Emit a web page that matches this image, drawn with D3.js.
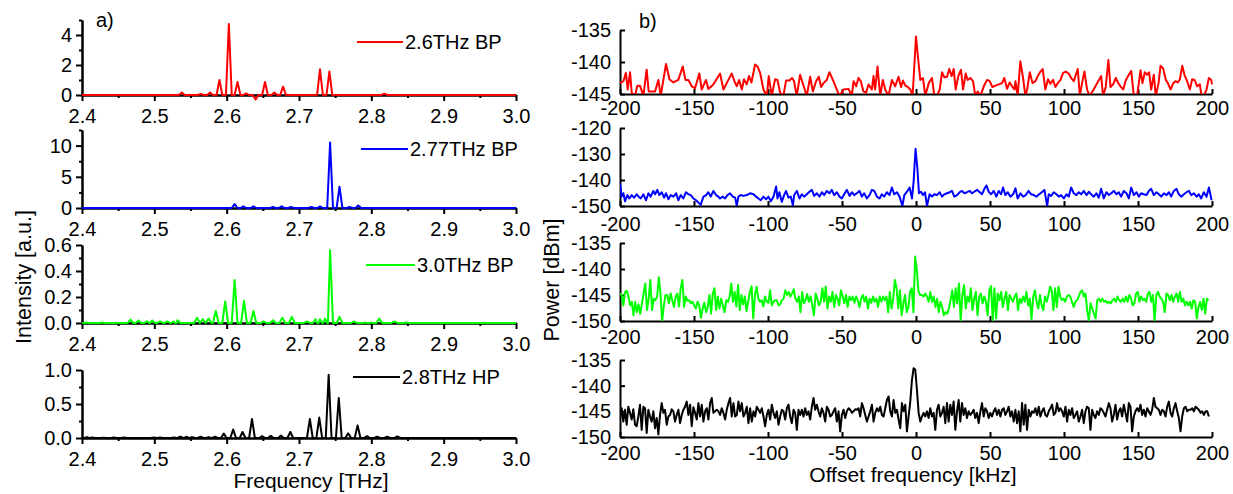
<!DOCTYPE html>
<html>
<head>
<meta charset="utf-8">
<script src="https://cdn.jsdelivr.net/npm/d3@7"></script>
<style>
  body { margin: 0; background: #fff; }
</style>
</head>
<body>
<div class="chart"></div>
<script>
// Data
//= ================================
// left column: THz spectra, peaks as [frequency THz, intensity a.u.]
var peakRed = [[2.538,0.16],[2.564,0.07],[2.577,0.16],[2.590,1.0],[2.603,4.73],[2.615,0.87],[2.627,0.11],
  [2.640,-0.29],[2.653,0.87],[2.666,0.16],[2.678,0.56],[2.729,1.71],[2.742,1.56],[2.818,0.09]];
var peakBlue = [[2.611,0.63],[2.623,0.26],[2.637,0.26],[2.664,0.16],[2.676,0.26],[2.689,0.16],[2.717,0.16],
  [2.729,0.26],[2.743,10.5],[2.756,3.42],[2.770,0.16],[2.782,0.42]];
var peakGreen = [[2.406,0.003],[2.428,0.003],[2.467,0.026],[2.478,0.02],[2.490,0.013],[2.497,0.02],[2.508,0.013],
  [2.518,0.013],[2.527,0.013],[2.532,0.021],[2.559,0.04],[2.567,0.03],[2.575,0.034],[2.585,0.092],[2.598,0.166],
  [2.611,0.33],[2.624,0.171],[2.637,0.092],[2.651,0.013],[2.664,0.021],[2.677,0.04],[2.690,0.047],[2.711,0.013],
  [2.723,0.029],[2.729,0.029],[2.736,0.034],[2.743,0.56],[2.756,0.047],[2.776,0.013],[2.792,0.003],[2.799,0.003],
  [2.811,0.034],[2.832,0.013],[2.849,0.003]];
var peakBlack = [[2.407,0.013],[2.414,0.009],[2.430,0.004],[2.444,0.009],[2.458,0.009],[2.499,0.009],[2.508,0.009],
  [2.527,0.009],[2.536,0.018],[2.545,0.018],[2.552,0.013],[2.564,0.018],[2.575,0.013],[2.584,0.018],[2.596,0.066],
  [2.609,0.124],[2.622,0.088],[2.635,0.28],[2.649,0.027],[2.661,0.031],[2.675,0.035],[2.688,0.088],[2.715,0.28],
  [2.728,0.30],[2.741,0.93],[2.755,0.59],[2.768,0.07],[2.781,0.186],[2.794,0.027],[2.808,0.018],[2.822,0.018],
  [2.836,0.022]];

// right column: beat note spectra, [offset kHz, power dBm]
var noiseRed = [[-200,-143.3],[-197.7,-143.0],[-196,-141.7],[-194.8,-144.3],[-193.2,-141.6],[-192.1,-144.8],[-189.9,-145.3],
  [-188.3,-143.7],[-186.5,-143.7],[-184.2,-145.3],[-182,-141.2],[-180.6,-144.6],[-178.6,-144.6],[-176.3,-144.6],
  [-174.1,-142.8],[-172.5,-145.3],[-168.9,-140.3],[-166.6,-142.7],[-163.9,-143.2],[-160.6,-142.8],[-157.6,-140.7],
  [-155.8,-142.8],[-153.8,-142.8],[-151.5,-143.8],[-149.3,-144.1],[-146.4,-141.8],[-144.8,-144.3],[-141.9,-142.8],
  [-140.3,-144.2],[-136.9,-143.5],[-135.1,-142.8],[-132.4,-141.8],[-130.1,-144.3],[-127.9,-143.3],[-124.5,-141.8],
  [-122.7,-143.0],[-121.1,-143.8],[-119.5,-142.8],[-117.7,-144.3],[-116.2,-142.7],[-114.4,-143.5],[-112.8,-142.2],
  [-111.2,-143.2],[-108.7,-140.4],[-107.1,-140.7],[-105.3,-141.7],[-103.1,-144.3],[-100.8,-145.3],[-99.5,-142.2],
  [-97.5,-145.3],[-95.2,-142.7],[-93.6,-142.8],[-91.8,-144.8],[-89.6,-145.3],[-87.8,-142.9],[-85.5,-142.9],
  [-83.7,-142.5],[-82.4,-143.0],[-80.6,-145.3],[-78.3,-142.0],[-76.0,-143.7],[-73.8,-145.3],[-71.5,-142.3],
  [-69.7,-144.6],[-67.5,-143.0],[-65.7,-142.3],[-64.1,-143.9],[-62.5,-143.3],[-60.3,-142.8],[-58.5,-141.6],
  [-55.8,-143.0],[-53.5,-144.3],[-51.7,-145.3],[-49.0,-144.3],[-45.6,-144.2],[-43.4,-145.3],[-42.2,-143.0],
  [-40.4,-143.8],[-38.9,-142.5],[-37.3,-143.0],[-35.5,-144.6],[-33.7,-144.8],[-32.1,-143.5],[-29.8,-144.3],
  [-28.7,-142.2],[-27.6,-144.3],[-26.0,-140.7],[-24.2,-145.3],[-22.4,-142.8],[-20.8,-144.3],[-18.6,-145.3],
  [-16.3,-142.8],[-14.1,-143.8],[-11.8,-142.3],[-10.1,-143.9],[-8.8,-142.9],[-7.2,-143.7],[-5.6,-143.9],
  [-3.8,-144.3],[-2.3,-145.3],[0,-136.0],[1.4,-139.4],[2.9,-142.8],[4.7,-142.5],[6.3,-145.3],[8.6,-143.3],
  [10.8,-142.5],[12.4,-145.3],[14.2,-145.3],[16.0,-144.3],[17.6,-141.6],[19.2,-142.4],[21.0,-142.3],[22.5,-141.1],
  [24.1,-142.2],[25.5,-141.1],[26.8,-144.3],[28.6,-142.2],[30.4,-141.2],[31.8,-144.3],[33.6,-141.8],[34.9,-142.8],
  [36.7,-142.5],[38.5,-143.0],[40.1,-145.3],[41.7,-144.6],[43.5,-145.3],[45.8,-143.8],[48.0,-142.8],[49.8,-143.0],
  [51.6,-143.9],[53.6,-143.7],[55.9,-143.5],[58.1,-143.3],[59.7,-142.5],[61.5,-144.2],[63.3,-143.2],[64.9,-143.8],
  [66.5,-144.3],[67.2,-143.0],[68.7,-145.3],[70.5,-139.9],[72.3,-142.4],[73.9,-145.3],[75.1,-144.3],[76.9,-141.6],
  [78.7,-143.3],[80.7,-143.0],[82.3,-142.2],[84.1,-141.5],[85.6,-141.1],[87.4,-144.3],[89.2,-142.7],[90.8,-143.4],
  [92.6,-142.8],[94.2,-143.9],[95.8,-143.3],[97.6,-142.8],[99.4,-141.7],[101.2,-141.5],[103.2,-141.8],[104.8,-142.5],
  [106.6,-143.0],[108.0,-142.0],[109.3,-141.1],[110.7,-145.3],[112.2,-143.3],[113.8,-141.5],[115.6,-144.3],
  [117.2,-145.3],[120.1,-144.3],[122.4,-143.3],[125.1,-142.2],[126.4,-145.3],[128.2,-143.9],[130.0,-139.7],
  [131.4,-143.9],[133.2,-143.5],[135.0,-142.5],[136.4,-143.2],[138.2,-143.8],[140.0,-144.3],[141.8,-142.8],
  [143.8,-142.0],[145.4,-141.4],[147.2,-145.3],[149.4,-145.3],[151.7,-141.3],[153.0,-143.3],[154.6,-141.6],
  [156.2,-142.0],[157.5,-141.6],[158.9,-144.3],[160.7,-142.0],[162.0,-145.3],[163.9,-143.3],[165.2,-140.6],
  [167.0,-141.0],[168.8,-142.8],[170.2,-143.3],[172.0,-144.3],[173.8,-143.3],[175.3,-143.0],[176.9,-143.2],
  [178.3,-142.7],[179.9,-140.6],[181.4,-142.0],[183.2,-143.0],[185.0,-144.3],[186.6,-142.7],[188.2,-142.8],
  [190.0,-143.8],[191.8,-143.5],[192.9,-145.3],[194.5,-145.3],[196.3,-144.3],[197.9,-142.5],[199.5,-142.8],[200,-143.5]];

var noiseBlue = [[-200.0,-141.2],[-198.9,-146.4],[-197.7,-145.1],[-196.6,-148.2],[-195.0,-145.8],[-193.7,-147.1],
  [-192.1,-145.8],[-190.5,-146.8],[-188.7,-145.5],[-187.4,-146.4],[-186.0,-147.1],[-184.2,-145.5],[-182.4,-147.8],
  [-180.8,-145.1],[-179.3,-146.4],[-177.5,-144.2],[-176.3,-145.5],[-174.8,-143.8],[-173.4,-145.8],[-171.8,-144.7],
  [-170.2,-146.8],[-168.9,-145.1],[-167.3,-147.4],[-165.7,-145.8],[-163.9,-146.4],[-162.1,-145.1],[-160.6,-147.8],
  [-159.0,-145.8],[-157.2,-147.1],[-155.4,-144.7],[-153.8,-145.5],[-152.2,-145.8],[-150.4,-147.1],[-148.6,-147.8],
  [-147.0,-148.7],[-145.5,-149.5],[-143.6,-146.4],[-141.8,-145.8],[-140.3,-144.7],[-138.7,-146.4],[-136.9,-144.2],
  [-135.1,-145.8],[-133.5,-146.4],[-132.4,-147.1],[-130.6,-146.4],[-129.0,-147.1],[-127.4,-145.8],[-125.6,-145.1],
  [-123.8,-146.4],[-122.2,-146.8],[-121.1,-150.0],[-120.0,-146.4],[-118.4,-145.8],[-116.6,-146.1],[-114.3,-145.8],
  [-112.1,-145.1],[-109.8,-145.5],[-108.0,-146.4],[-106.5,-147.1],[-104.9,-147.8],[-103.1,-146.4],[-101.3,-147.4],
  [-99.7,-146.4],[-98.1,-148.2],[-96.3,-146.4],[-94.5,-142.5],[-93.6,-147.1],[-92.3,-144.7],[-90.7,-148.4],
  [-89.1,-145.8],[-87.8,-144.2],[-86.2,-146.8],[-84.6,-146.4],[-83.2,-149.7],[-82.3,-145.8],[-80.5,-144.2],
  [-78.7,-147.1],[-77.2,-145.5],[-75.6,-146.4],[-73.8,-145.5],[-72.0,-144.5],[-70.4,-143.8],[-68.8,-146.1],
  [-67.0,-145.1],[-65.2,-146.4],[-63.6,-144.7],[-62.0,-145.8],[-60.3,-144.2],[-58.4,-145.1],[-56.9,-143.8],
  [-55.3,-145.8],[-53.5,-144.7],[-51.7,-146.4],[-50.1,-147.1],[-48.5,-145.5],[-46.7,-143.8],[-44.9,-146.1],
  [-43.3,-144.7],[-41.8,-145.8],[-40.0,-145.1],[-38.2,-144.2],[-36.6,-146.4],[-35.0,-145.1],[-33.2,-147.1],
  [-31.4,-145.8],[-29.8,-143.8],[-28.2,-144.2],[-26.4,-146.4],[-24.6,-147.1],[-23.1,-145.5],[-21.5,-146.4],
  [-19.7,-144.7],[-17.9,-145.8],[-16.3,-142.9],[-14.7,-145.5],[-12.9,-144.7],[-11.1,-146.4],[-9.2,-150.0],
  [-7.9,-145.8],[-6.1,-144.5],[-4.3,-142.9],[-2.7,-147.1],[-1.6,-140.5],[-0.3,-128.0],[0.9,-135.3],[2.0,-145.1],
  [3.4,-144.5],[4.7,-145.8],[6.1,-144.7],[7.4,-150.0],[9.2,-145.5],[10.8,-146.4],[12.4,-145.5],[14.2,-145.8],
  [16.0,-144.7],[17.6,-146.4],[19.2,-145.5],[21.0,-145.1],[22.8,-144.7],[24.3,-144.2],[25.9,-146.4],[27.7,-145.8],
  [29.5,-144.7],[31.1,-144.2],[32.7,-145.1],[34.5,-144.7],[36.3,-144.2],[37.9,-145.1],[39.4,-144.5],[41.2,-143.8],
  [43.1,-144.7],[44.6,-145.5],[46.2,-143.4],[47.6,-142.1],[49.1,-144.5],[50.7,-145.5],[52.5,-144.2],[54.3,-146.4],
  [55.9,-144.2],[57.5,-145.5],[58.8,-142.9],[60.4,-145.8],[62.0,-144.7],[63.8,-146.4],[65.6,-145.5],[67.2,-143.2],
  [68.7,-147.1],[70.6,-145.1],[72.4,-146.4],[74.2,-145.8],[76.0,-144.2],[77.8,-145.5],[79.6,-145.8],[81.4,-146.4],
  [83.2,-145.5],[85.0,-144.7],[86.8,-143.8],[88.6,-150.0],[89.7,-145.5],[91.3,-146.1],[93.1,-144.7],[94.9,-145.5],
  [96.5,-146.4],[98.0,-145.8],[99.9,-147.1],[101.7,-145.5],[103.2,-146.4],[104.8,-142.9],[106.6,-145.1],
  [108.4,-145.8],[110.0,-144.7],[111.6,-145.5],[113.4,-144.2],[115.2,-145.8],[116.8,-144.5],[118.3,-145.5],
  [120.1,-146.4],[121.9,-145.1],[123.5,-146.8],[125.1,-143.4],[126.9,-147.1],[128.7,-144.7],[130.3,-145.8],
  [131.9,-145.1],[133.7,-144.2],[135.5,-145.5],[137.0,-144.7],[138.6,-146.4],[140.4,-144.2],[142.2,-145.1],
  [143.8,-147.1],[145.4,-142.9],[147.2,-145.8],[149.0,-144.7],[150.6,-146.4],[152.1,-145.1],[153.9,-145.5],
  [155.8,-145.8],[157.3,-144.2],[158.9,-143.4],[160.7,-145.8],[162.5,-144.7],[164.1,-145.5],[165.7,-146.4],
  [167.5,-145.1],[169.3,-145.8],[170.9,-144.7],[172.4,-146.4],[174.2,-144.2],[176.0,-143.4],[177.6,-145.5],
  [179.2,-146.4],[181.0,-145.5],[182.8,-144.7],[184.4,-144.2],[186.0,-145.8],[187.8,-145.1],[189.6,-146.4],
  [191.1,-145.5],[192.7,-147.1],[194.5,-144.7],[196.3,-146.4],[197.9,-142.9],[199.0,-145.8],[199.7,-147.8]];

// green and black traces: evenly spaced samples between the first and last offset
var greenSpan = [-200, 197.7];
var noiseGreen = [-144.7,-145.0,-147.0,-144.4,-144.2,-145.3,-147.0,
  -146.3,-148.9,-146.3,-148.3,-146.8,-148.6,-146.6,-144.7,-142.8,-147.9,
  -145.7,-142.1,-147.9,-145.7,-146.0,-145.3,-141.6,-144.7,-150.0,-147.0,
  -145.0,-145.0,-146.6,-144.7,-146.0,-147.3,-145.3,-144.7,-147.2,-143.7,
  -142.1,-147.3,-145.3,-146.1,-146.0,-146.6,-146.3,-147.0,-147.6,-146.3,
  -147.0,-149.4,-147.6,-146.5,-148.3,-147.3,-145.0,-148.6,-144.7,-143.7,
  -147.9,-145.3,-147.6,-145.7,-147.0,-148.3,-146.0,-146.3,-145.3,-142.8,
  -146.3,-144.4,-147.2,-143.1,-147.9,-145.0,-146.8,-145.3,-148.1,-146.3,
  -144.4,-143.3,-149.5,-145.0,-143.4,-145.7,-146.3,-146.0,-147.2,-145.3,
  -146.3,-146.5,-144.1,-147.0,-146.3,-146.0,-146.0,-147.0,-146.8,-146.0,
  -145.7,-144.1,-145.0,-144.4,-145.3,-144.7,-143.9,-145.7,-146.3,-145.3,
  -148.3,-144.4,-146.6,-146.0,-144.8,-146.3,-145.3,-147.0,-148.9,-144.7,
  -145.7,-147.0,-146.3,-143.7,-146.3,-143.4,-147.6,-145.3,-146.3,-144.4,
  -147.3,-145.0,-145.7,-147.0,-144.1,-145.3,-146.6,-145.0,-147.3,-145.3,
  -146.0,-145.3,-146.5,-145.3,-146.0,-147.3,-145.7,-145.0,-146.3,-145.3,
  -147.6,-145.7,-146.5,-145.3,-146.3,-145.7,-147.3,-145.3,-146.3,-145.3,
  -146.0,-145.3,-148.3,-144.4,-147.6,-145.7,-142.1,-143.7,-147.6,
  -144.1,-148.9,-146.6,-145.0,-148.3,-147.3,-144.4,-143.7,-148.3,-137.6,
  -140.2,-144.4,-145.0,-145.0,-145.3,-144.7,-145.3,-146.3,-144.4,-146.3,
  -145.3,-147.3,-145.7,-148.3,-146.3,-147.3,-148.9,-148.3,-148.6,-147.6,
  -146.0,-144.1,-147.3,-143.7,-146.6,-142.8,-150.0,-145.0,-143.1,-147.6,
  -145.3,-146.3,-143.7,-147.9,-145.7,-144.4,-148.9,-145.3,-144.7,-146.6,
  -145.3,-146.3,-148.9,-144.1,-143.3,-149.9,-143.7,-149.5,-144.7,-146.0,
  -144.4,-147.3,-145.7,-144.4,-147.9,-145.0,-145.7,-146.3,-145.3,-144.7,
  -147.9,-145.7,-146.5,-145.3,-146.3,-144.4,-147.0,-145.7,-149.7,-145.3,
  -144.1,-146.3,-147.6,-145.0,-147.0,-147.9,-145.3,-146.3,-145.0,-143.4,
  -144.1,-147.9,-143.7,-147.3,-143.4,-145.3,-146.0,-145.7,-146.3,-145.3,
  -145.0,-145.3,-146.3,-147.3,-146.3,-146.0,-145.3,-144.4,-144.1,-145.3,
  -144.7,-147.9,-149.9,-146.6,-147.6,-148.6,-149.5,-146.0,-145.7,-146.3,
  -145.7,-146.3,-146.1,-146.6,-146.3,-146.6,-146.0,-145.7,-146.3,-145.3,
  -146.0,-146.3,-145.7,-146.3,-145.3,-146.3,-145.0,-145.7,-147.0,-146.6,
  -144.7,-144.4,-146.3,-145.3,-146.0,-145.7,-146.3,-144.7,-144.4,-146.3,
  -145.0,-150.0,-145.0,-144.4,-145.3,-145.7,-146.3,-148.3,-144.7,-145.0,
  -146.0,-145.0,-146.3,-145.3,-144.7,-146.3,-144.4,-146.3,-145.7,-147.0,
  -146.3,-147.0,-146.3,-147.6,-146.0,-146.3,-149.5,-147.3,-146.3,-147.9,
  -145.7,-148.6,-145.7,-146.0];

var blackSpan = [-200, 197.9];
var noiseBlack = [-146.3,-144.4,-147.0,-144.7,-147.6,-144.1,-145.3,-146.6,-144.6,-147.6,
  -147.9,-146.0,-143.7,-148.6,-144.1,-144.4,-149.2,-144.7,-146.0,-147.0,
  -145.0,-148.3,-146.3,-149.5,-145.7,-143.4,-145.3,-144.7,-147.6,-146.0,
  -145.7,-144.6,-145.0,-147.0,-145.7,-144.7,-147.3,-145.7,-144.7,-144.1,
  -143.1,-145.7,-143.7,-147.9,-144.2,-145.3,-146.6,-143.4,-146.0,-143.7,
  -147.0,-145.0,-144.4,-146.6,-143.4,-142.4,-145.3,-145.0,-144.7,-145.0,
  -145.7,-144.4,-145.3,-146.6,-144.7,-143.4,-142.4,-146.0,-143.4,-146.0,
  -145.7,-143.1,-145.0,-143.4,-146.0,-145.3,-144.1,-147.3,-144.4,-147.0,
  -145.0,-146.0,-144.1,-144.7,-145.3,-144.4,-146.0,-147.9,-145.7,-144.7,
  -146.6,-143.7,-145.3,-146.3,-145.0,-147.6,-146.0,-144.7,-145.0,-146.6,
  -144.4,-143.7,-146.0,-147.3,-144.7,-145.3,-148.6,-144.7,-145.7,-144.7,
  -146.0,-144.4,-145.7,-145.0,-146.6,-144.1,-142.4,-144.7,-143.7,-145.0,
  -146.0,-144.4,-145.3,-147.0,-144.1,-144.7,-146.0,-145.7,-145.0,-144.4,
  -147.0,-145.0,-148.9,-145.7,-144.7,-146.3,-145.0,-144.4,-144.7,-145.3,
  -145.0,-144.6,-144.7,-144.4,-146.0,-143.4,-144.4,-145.7,-147.0,-146.0,
  -145.0,-143.7,-147.0,-145.3,-144.4,-145.0,-144.1,-145.7,-146.0,-144.4,
  -142.8,-142.1,-145.0,-146.0,-142.8,-145.3,-144.7,-146.6,
  -148.3,-143.4,-145.0,-143.7,-148.9,-146.0,-143.1,-138.9,-136.6,-136.9,
  -140.8,-145.3,-147.0,-146.0,-145.3,-146.0,-145.0,-146.3,-144.4,-146.0,
  -145.3,-148.6,-144.7,-143.7,-146.0,-145.3,-144.1,-147.3,-143.4,-147.0,
  -143.7,-145.7,-143.1,-148.6,-145.0,-142.8,-147.0,-143.4,-145.7,-144.4,
  -146.3,-145.0,-145.7,-145.3,-144.7,-146.3,-145.3,-147.3,-145.0,-143.4,
  -146.0,-144.4,-145.0,-146.3,-145.3,-146.0,-145.0,-144.4,-145.7,-144.7,
  -146.0,-144.7,-144.4,-145.7,-145.0,-144.1,-146.0,-145.0,-147.0,-144.7,
  -147.3,-145.0,-148.9,-143.4,-147.6,-143.7,-148.6,-144.7,-146.0,-145.0,
  -145.3,-144.4,-145.7,-144.1,-146.0,-145.0,-144.4,-145.7,-146.0,-145.0,
  -144.4,-143.7,-145.7,-145.3,-143.4,-145.0,-144.4,-145.0,-146.0,-144.1,
  -147.0,-144.7,-145.7,-144.4,-146.3,-145.7,-145.0,-147.0,-146.0,-144.7,
  -147.3,-145.0,-144.1,-144.4,-148.6,-144.7,-145.7,-146.3,-145.0,-145.7,
  -144.4,-144.7,-145.3,-146.0,-144.7,-143.4,-144.4,-147.0,-145.7,-143.7,
  -146.6,-145.0,-144.4,-146.0,-143.7,-145.3,-147.0,-143.4,-144.1,-148.9,
  -146.0,-145.0,-144.4,-145.0,-143.7,-145.7,-144.7,-146.0,-144.4,-145.0,
  -145.7,-144.7,-142.4,-144.1,-144.4,-144.7,-145.7,-144.7,-145.0,-146.0,
  -144.1,-143.1,-145.3,-146.0,-144.4,-143.4,-145.0,-146.3,-148.9,-146.0,
  -144.4,-144.1,-145.0,-144.7,-144.7,-144.4,-145.0,-144.1,-144.4,-144.7,
  -145.3,-145.0,-145.7,-145.0,-145.0,-146.0];

// ticks and labels
var freqTicks = [2.4, 2.5, 2.6, 2.7, 2.8, 2.9, 3.0];
var freqMinor = [2.45, 2.55, 2.65, 2.75, 2.85, 2.95];
var offsetTicks = [-200, -150, -100, -50, 0, 50, 100, 150, 200];
var intensityTicks = [[0, 2, 4], [0, 5, 10], [0, 0.2, 0.4, 0.6], [0, 0.5, 1.0]];
var intensityMinor = [[1, 3, 5], [2.5, 7.5, 12.5], [0.1, 0.3, 0.5], [0.25, 0.75]];
var powerTicks = [[-145, -140, -135], [-150, -140, -130, -120], [-150, -145, -140, -135], [-150, -145, -140, -135]];
var legendLabels = ["2.6THz BP", "2.77THz BP", "3.0THz BP", "2.8THz HP"];
var seriesColors = ["#ff0000", "#0000ff", "#00ff00", "#000000"];

// Set up
//= ================================
var font = "'Liberation Sans', Arial, Helvetica, sans-serif";

var svg = d3.select(".chart")
  .append("svg")
  .attr("width", 1233)
  .attr("height", 494)
  .style("display", "block");

var xFreq = d3.scaleLinear().domain([2.4, 3.0]).range([82, 516]);
var xOffset = d3.scaleLinear().domain([-200, 200]).range([620, 1212]);

var leftPanels = [
  { peaks: peakRed, domain: [0, 5], top: 20, bottom: 95, fmt: d3.format("d"), legend: [357, 403, 42] },
  { peaks: peakBlue, domain: [0, 12.5], top: 130, bottom: 208, fmt: d3.format("d"), legend: [361, 408, 149] },
  { peaks: peakGreen, domain: [0, 0.6], top: 245, bottom: 323, fmt: d3.format(".1f"), legend: [366, 415, 265] },
  { peaks: peakBlack, domain: [0, 1], top: 370, bottom: 438, fmt: d3.format(".1f"), legend: [353, 400, 377] }
];

function spread(values, span) {
  var pos = d3.scaleLinear().domain([0, values.length - 1]).range(span);
  return values.map(function(v, i) { return [pos(i), v]; });
}

var rightPanels = [
  { data: noiseRed, domain: [-145, -135], top: 30, bottom: 94, pad: 7 },
  { data: noiseBlue, domain: [-150, -120], top: 128, bottom: 206, pad: 11 },
  { data: spread(noiseGreen, greenSpan), domain: [-150, -135], top: 243, bottom: 321, pad: 9 },
  { data: spread(noiseBlack, blackSpan), domain: [-150, -135], top: 360, bottom: 437, pad: 9 }
];

function styleAxis(g) {
  g.attr("font-size", 20).attr("font-family", font);
  g.selectAll("path, line").attr("stroke", "#000").attr("stroke-width", 2);
  g.selectAll("text").attr("fill", "#000");
}

// build a spectrum trace: each peak is a narrow triangle on a zero baseline
function peakLine(peaks) {
  var pts = [[2.4, 0], [3.0, 0]];
  peaks.forEach(function(p) {
    pts.push([p[0] - 0.004, 0], [p[0], p[1]], [p[0] + 0.004, 0]);
  });
  return pts.sort(function(a, b) { return a[0] - b[0]; });
}

// Left column
//= ================================
leftPanels.forEach(function(p, i) {
  var y = d3.scaleLinear().domain(p.domain).range([p.bottom, p.top]);

  svg.append("g")
    .attr("transform", "translate(" + xFreq.range()[0] + ",0)")
    .call(d3.axisLeft(y).tickValues(intensityMinor[i]).tickSize(3).tickSizeOuter(0).tickFormat(""))
    .call(styleAxis);

  svg.append("g")
    .attr("transform", "translate(" + xFreq.range()[0] + ",0)")
    .call(d3.axisLeft(y).tickValues(intensityTicks[i]).tickSize(6).tickSizeOuter(0).tickPadding(4).tickFormat(p.fmt))
    .call(styleAxis);

  svg.append("g")
    .attr("transform", "translate(0," + p.bottom + ")")
    .call(d3.axisBottom(xFreq).tickValues(freqMinor).tickSize(3).tickSizeOuter(0).tickFormat(""))
    .call(styleAxis);

  svg.append("g")
    .attr("transform", "translate(0," + p.bottom + ")")
    .call(d3.axisBottom(xFreq).tickValues(freqTicks).tickSize(6).tickSizeOuter(0).tickPadding(8).tickFormat(d3.format(".1f")))
    .call(styleAxis);

  var line = d3.line()
    .x(function(d) { return xFreq(d[0]); })
    .y(function(d) { return y(d[1]); });

  svg.append("path")
    .datum(peakLine(p.peaks))
    .attr("d", line)
    .attr("fill", "none")
    .attr("stroke", seriesColors[i])
    .attr("stroke-width", 2)
    .attr("stroke-linejoin", "round");

  // legend
  svg.append("line")
    .attr("x1", p.legend[0]).attr("x2", p.legend[1])
    .attr("y1", p.legend[2]).attr("y2", p.legend[2])
    .attr("stroke", seriesColors[i])
    .attr("stroke-width", 2);
  svg.append("text")
    .attr("x", p.legend[1] + 2)
    .attr("y", p.legend[2])
    .attr("dy", "0.35em")
    .attr("font-family", font)
    .attr("font-size", 20)
    .text(legendLabels[i]);
});

// Right column
//= ================================
rightPanels.forEach(function(p, i) {
  var y = d3.scaleLinear().domain(p.domain).range([p.bottom, p.top]);

  svg.append("g")
    .attr("transform", "translate(" + xOffset.range()[0] + ",0)")
    .call(d3.axisLeft(y).tickValues(powerTicks[i]).tickSize(-5).tickSizeOuter(0).tickPadding(9).tickFormat(String))
    .call(styleAxis);

  svg.append("g")
    .attr("transform", "translate(0," + p.bottom + ")")
    .call(d3.axisBottom(xOffset).tickValues(offsetTicks).tickSize(-5).tickSizeOuter(0).tickPadding(p.pad).tickFormat(String))
    .call(styleAxis);

  var clipId = "clip" + i;
  svg.append("clipPath")
    .attr("id", clipId)
    .append("rect")
    .attr("x", xOffset.range()[0])
    .attr("y", p.top - 10)
    .attr("width", xOffset.range()[1] - xOffset.range()[0] + 2)
    .attr("height", p.bottom - p.top + 10);

  var line = d3.line()
    .x(function(d) { return xOffset(d[0]); })
    .y(function(d) { return y(d[1]); });

  svg.append("path")
    .datum(p.data)
    .attr("d", line)
    .attr("clip-path", "url(#" + clipId + ")")
    .attr("fill", "none")
    .attr("stroke", seriesColors[i])
    .attr("stroke-width", 2)
    .attr("stroke-linejoin", "round");
});

// Titles and panel marks
//= ================================
svg.append("text")
  .attr("transform", "translate(23,277) rotate(-90)")
  .attr("text-anchor", "middle")
  .attr("dy", "0.35em")
  .attr("font-family", font)
  .attr("font-size", 21.5)
  .text("Intensity [a.u.]");

svg.append("text")
  .attr("transform", "translate(551,280) rotate(-90)")
  .attr("text-anchor", "middle")
  .attr("dy", "0.35em")
  .attr("font-family", font)
  .attr("font-size", 21.5)
  .text("Power [dBm]");

svg.append("text")
  .attr("x", 311).attr("y", 481)
  .attr("text-anchor", "middle")
  .attr("dy", "0.35em")
  .attr("font-family", font)
  .attr("font-size", 21)
  .text("Frequency [THz]");

svg.append("text")
  .attr("x", 913).attr("y", 475)
  .attr("text-anchor", "middle")
  .attr("dy", "0.35em")
  .attr("font-family", font)
  .attr("font-size", 21)
  .text("Offset frequency [kHz]");

svg.append("text")
  .attr("x", 96).attr("y", 20)
  .attr("dy", "0.35em")
  .attr("font-family", font)
  .attr("font-size", 20)
  .text("a)");

svg.append("text")
  .attr("x", 639).attr("y", 21)
  .attr("dy", "0.35em")
  .attr("font-family", font)
  .attr("font-size", 20)
  .text("b)");
</script>
</body>
</html>
